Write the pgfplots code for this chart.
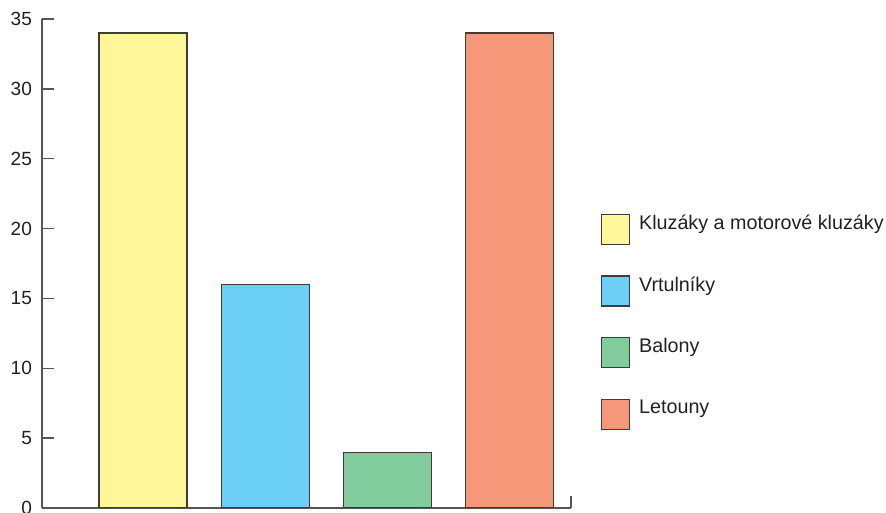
\documentclass[border=0pt]{standalone}
\usepackage{pgfplots}
\pgfplotsset{compat=1.18}
\usepackage{fontspec}
\setmainfont{Liberation Sans}
\definecolor{cyellow}{RGB}{255,245,153}
\definecolor{cblue}{RGB}{107,207,246}
\definecolor{cgreen}{RGB}{130,203,156}
\definecolor{csalmon}{RGB}{245,152,121}
\definecolor{edgegray}{RGB}{60,60,60}
\definecolor{axgray}{RGB}{85,85,85}
\definecolor{txt}{RGB}{35,31,32}
\begin{document}
\begin{tikzpicture}
\begin{axis}[
  scale only axis,
  width=396.75pt, height=366.75pt,
  xmin=-0.826, xmax=3.5,
  ymin=0, ymax=35,
  axis lines=left,
  axis line style={axgray, line width=1pt, -},
  xtick={3.5}, xticklabels={},
  ytick={0,5,...,35},
  tick align=inside,
  major tick length=9pt,
  tick style={axgray, line width=1pt},
  /pgf/number format/assume math mode=true,
  tick label style={font=\fontsize{14.3}{16}\selectfont, text=txt},
  yticklabel style={xshift=-4pt},
  bar width=66pt,
  legend image code/.code={\draw[#1, draw=edgegray, line width=0.9pt] (0pt,-15.75pt) rectangle (21pt,6.75pt); \path (25.5pt,0pt);},
  legend style={draw=none, fill=none,
    font=\fontsize{14.8}{17}\selectfont, text=txt,
    row sep=22pt, inner sep=0pt,
    at={([xshift=419.25pt, yshift=222pt]rel axis cs:0,0)}, anchor=north west},
  legend cell align=left,
]
\addplot[ybar, fill=cyellow, draw=edgegray, line width=0.9pt] coordinates {(0,34)};
\addlegendentry{Kluzáky a motorové kluzáky}
\addplot[ybar, fill=cblue, draw=edgegray, line width=0.9pt] coordinates {(1,16)};
\addlegendentry{Vrtulníky}
\addplot[ybar, fill=cgreen, draw=edgegray, line width=0.9pt] coordinates {(2,4)};
\addlegendentry{Balony}
\addplot[ybar, fill=csalmon, draw=edgegray, line width=0.9pt] coordinates {(3,34)};
\addlegendentry{Letouny}
\coordinate (O) at (rel axis cs:0,0);
\end{axis}
\pgfresetboundingbox
\path[use as bounding box] ([shift={(-31.5pt,-3.75pt)}]O) rectangle ([shift={(633pt,381pt)}]O);
\end{tikzpicture}
\end{document}
